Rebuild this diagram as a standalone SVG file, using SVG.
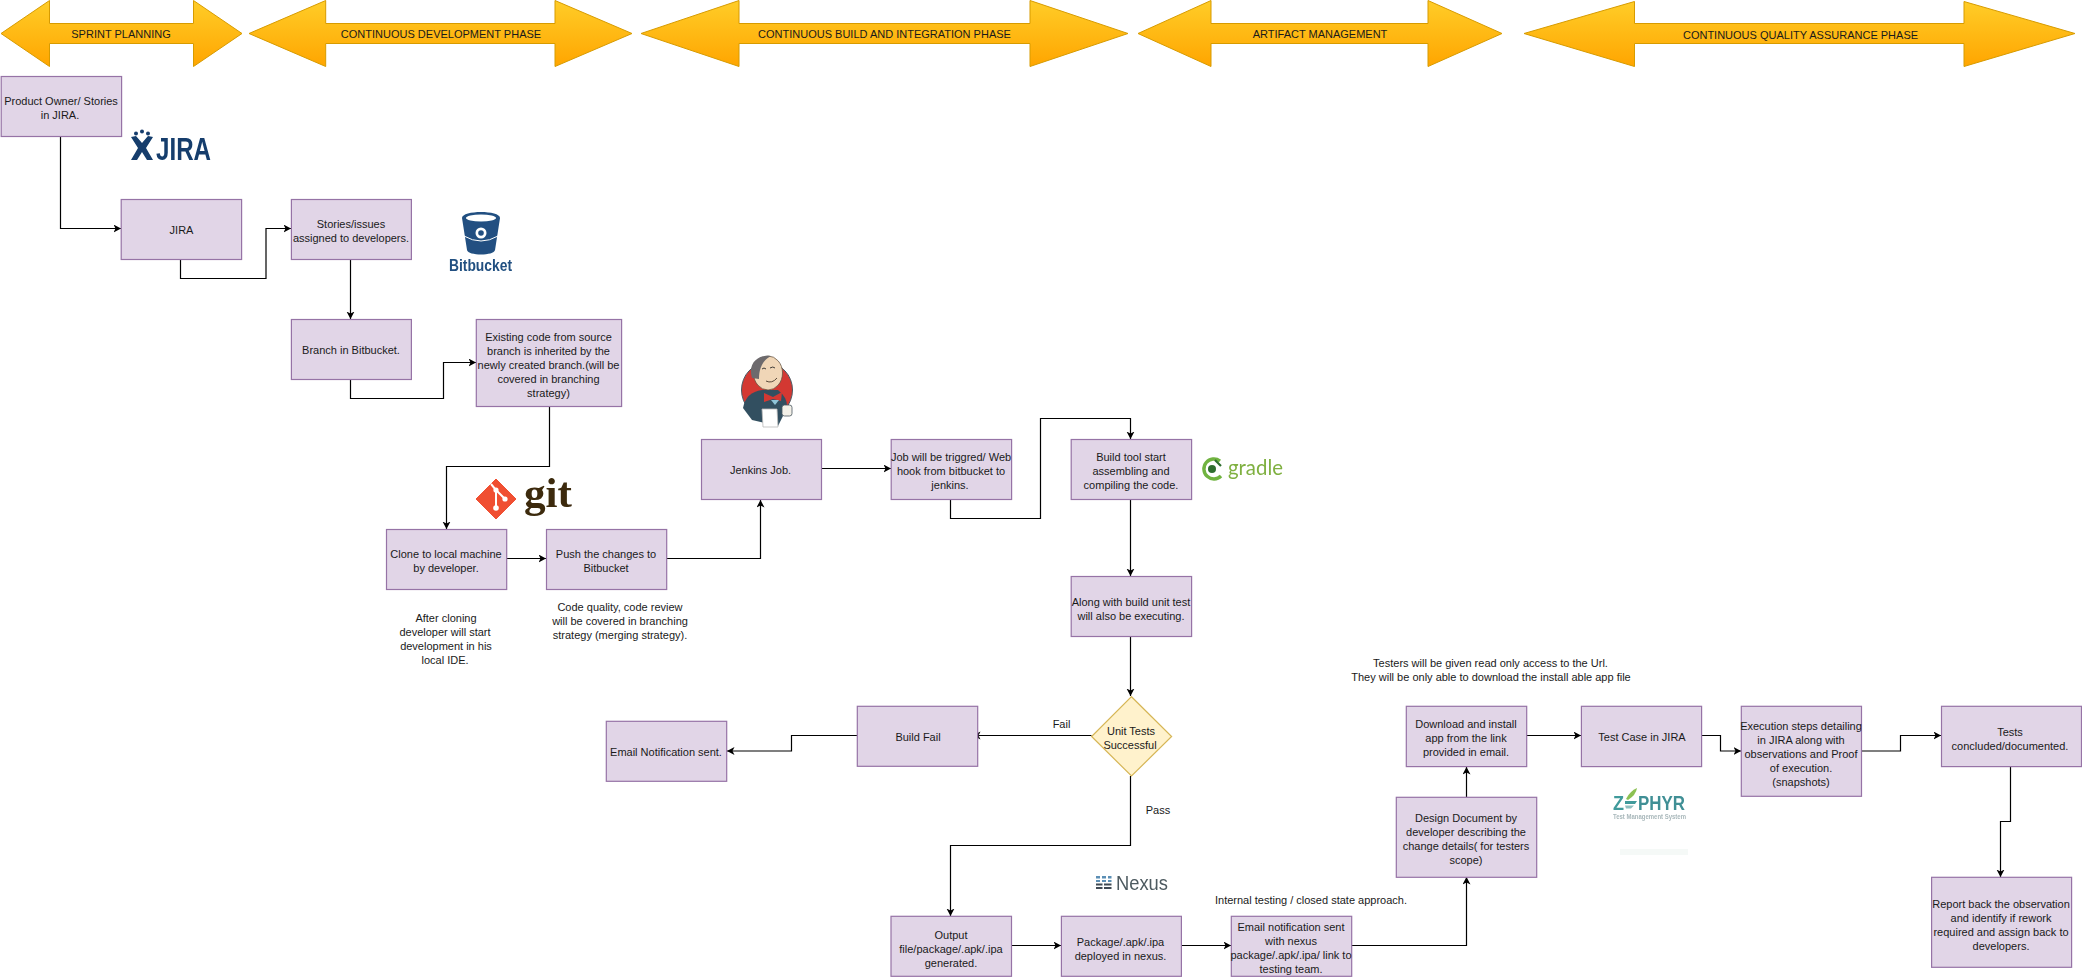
<svg xmlns="http://www.w3.org/2000/svg" width="2082" height="977" viewBox="0 0 2082 977">
<style>
text{font-family:"Liberation Sans",Arial,sans-serif;font-size:11px;fill:#1a1a1a;text-anchor:middle}
.b{fill:#e1d5e7;stroke:#9673a6;stroke-width:1.2}
.d{fill:#fff2cc;stroke:#d6b656;stroke-width:1.2}
.a{fill:url(#og);stroke:#d79b00;stroke-width:1}
.c{fill:none;stroke:#000;stroke-width:1.2;marker-end:url(#ah)}
</style>
<defs>
<linearGradient id="og" x1="0" y1="0" x2="0" y2="1"><stop offset="0" stop-color="#ffcd28"/><stop offset="1" stop-color="#ffa500"/></linearGradient>
<marker id="ah" markerUnits="userSpaceOnUse" markerWidth="9" markerHeight="9" refX="7.5" refY="4" orient="auto"><path d="M0,0 L7.5,4 L0,8 L2,4 Z" fill="#000"/></marker>
<filter id="soft" x="-5%" y="-5%" width="110%" height="110%"><feGaussianBlur stdDeviation="0.45"/></filter>
</defs>
<g id="phases">
<g id="phase-sprint"><path class="a" d="M1,33.5 L49.5,0.5 V23.5 H193.5 V0.5 L242,33.5 L193.5,66.5 V43.5 H49.5 V66.5 Z"/><text x="121" y="38">SPRINT PLANNING</text></g>
<g id="phase-dev"><path class="a" d="M249,33.5 L325.7,0.5 V23.5 H555 V0.5 L632,33.5 L555,66.5 V43.5 H325.7 V66.5 Z"/><text x="441" y="38">CONTINUOUS DEVELOPMENT PHASE</text></g>
<g id="phase-build"><path class="a" d="M641,33.5 L739,0.5 V23.5 H1030 V0.5 L1128,33.5 L1030,66.5 V43.5 H739 V66.5 Z"/><text x="884.5" y="38">CONTINUOUS BUILD AND INTEGRATION PHASE</text></g>
<g id="phase-artifact"><path class="a" d="M1138,33.5 L1211,0.5 V23.5 H1428 V0.5 L1502,33.5 L1428,66.5 V43.5 H1211 V66.5 Z"/><text x="1320" y="38">ARTIFACT MANAGEMENT</text></g>
<g id="phase-qa"><path class="a" d="M1524,33.5 L1634.5,1.5 V23.5 H1964 V1.5 L2075,33.5 L1964,66.5 V43.5 H1634.5 V66.5 Z"/><text x="1800.5" y="39">CONTINUOUS QUALITY ASSURANCE PHASE</text></g>
</g>
<g id="connectors">
<path class="c" d="M60.5,136 V228.5 H121"/>
<path class="c" d="M180.5,259 V278.5 H266 V228.5 H291"/>
<path class="c" d="M350.5,259 V319"/>
<path class="c" d="M350.5,379 V398.5 H443.5 V362.5 H476"/>
<path class="c" d="M549.5,406 V466.5 H446.5 V529"/>
<path class="c" d="M506.5,558.5 H546"/>
<path class="c" d="M666.5,558.5 H760.5 V500"/>
<path class="c" d="M821,468.5 H891"/>
<path class="c" d="M950.5,499 V518.5 H1040.5 V418.5 H1130.5 V439"/>
<path class="c" d="M1130.5,499 V576"/>
<path class="c" d="M1130.5,636 V696"/>
<path class="c" d="M1091.5,735.5 H973"/>
<path class="c" d="M857,735.5 H791.5 V751 H727"/>
<path class="c" d="M1130.5,776 V845.5 H950.5 V916"/>
<path class="c" d="M1011,945.5 H1061"/>
<path class="c" d="M1181,945.5 H1231"/>
<path class="c" d="M1351,945.5 H1466.5 V877"/>
<path class="c" d="M1466.5,797 V767"/>
<path class="c" d="M1526.5,735.5 H1581"/>
<path class="c" d="M1701,735.5 H1720.5 V751 H1741"/>
<path class="c" d="M1861,751 H1900.5 V735.5 H1941"/>
<path class="c" d="M2010.5,766 V821.5 H2000.5 V877"/>
</g>
<g id="n-po"><rect class="b" x="1.2" y="76.5" width="120.4" height="60"/><text x="61" y="105">Product Owner/ Stories</text><text x="60" y="119">in JIRA.</text></g>
<g id="n-jira"><rect class="b" x="121.2" y="199.5" width="120.4" height="60"/><text x="181.5" y="234">JIRA</text></g>
<g id="n-stories"><rect class="b" x="291.4" y="199.5" width="120" height="60"/><text x="351" y="228">Stories/issues</text><text x="351" y="242">assigned to developers.</text></g>
<g id="n-branch"><rect class="b" x="291.4" y="319.5" width="120" height="60"/><text x="351" y="354">Branch in Bitbucket.</text></g>
<g id="n-existing"><rect class="b" x="476.3" y="319.5" width="145.3" height="87"/><text x="548.5" y="341">Existing code from source</text><text x="548.5" y="355">branch is inherited by the</text><text x="548.5" y="369">newly created branch.(will be</text><text x="548.5" y="383">covered in branching</text><text x="548.5" y="397">strategy)</text></g>
<g id="n-clone"><rect class="b" x="386.5" y="529.5" width="120.2" height="60"/><text x="446" y="558">Clone to local machine</text><text x="446" y="572">by developer.</text></g>
<g id="n-push"><rect class="b" x="546.5" y="529.5" width="120.2" height="60"/><text x="606" y="558">Push the changes to</text><text x="606" y="572">Bitbucket</text></g>
<g id="n-jenkins"><rect class="b" x="701.5" y="439.5" width="120" height="60"/><text x="760.5" y="474">Jenkins Job.</text></g>
<g id="n-job"><rect class="b" x="891.2" y="439.5" width="120.4" height="60"/><text x="951" y="461">Job will be triggred/ Web</text><text x="951" y="475">hook from bitbucket to</text><text x="950" y="489">jenkins.</text></g>
<g id="n-build"><rect class="b" x="1071.2" y="439.5" width="120.4" height="60"/><text x="1131" y="461">Build tool start</text><text x="1131" y="475">assembling and</text><text x="1131" y="489">compiling the code.</text></g>
<g id="n-along"><rect class="b" x="1071.2" y="576.5" width="120.4" height="60"/><text x="1131" y="605.5">Along with build unit test</text><text x="1131" y="619.5">will also be executing.</text></g>
<g id="n-decision"><path class="d" d="M1131.5,696.7 L1171.6,736.5 L1131.5,776 L1091.6,736.5 Z"/><text x="1131" y="735">Unit Tests</text><text x="1130" y="749">Successful</text></g>
<g id="n-fail"><rect class="b" x="857.3" y="706.3" width="120.4" height="60"/><text x="918" y="741">Build Fail</text></g>
<g id="n-email"><rect class="b" x="606.3" y="721.3" width="120.4" height="60"/><text x="666" y="756">Email Notification sent.</text></g>
<g id="n-output"><rect class="b" x="891" y="916.3" width="120.5" height="60"/><text x="951" y="938.5">Output</text><text x="951" y="952.5">file/package/.apk/.ipa</text><text x="951" y="966.5">generated.</text></g>
<g id="n-package"><rect class="b" x="1061.4" y="916.3" width="120" height="60"/><text x="1120.5" y="945.5">Package/.apk/.ipa</text><text x="1120.5" y="959.5">deployed in nexus.</text></g>
<g id="n-emailnexus"><rect class="b" x="1231.3" y="916.3" width="120.4" height="60"/><text x="1291" y="931">Email notification sent</text><text x="1291" y="945">with nexus</text><text x="1291" y="959">package/.apk/.ipa/ link to</text><text x="1291" y="973">testing team.</text></g>
<g id="n-design"><rect class="b" x="1396.3" y="797.3" width="140.4" height="80"/><text x="1466" y="822">Design Document by</text><text x="1466" y="836">developer describing the</text><text x="1466" y="850">change details( for testers</text><text x="1466" y="864">scope)</text></g>
<g id="n-download"><rect class="b" x="1406.3" y="706.3" width="120.4" height="60.3"/><text x="1466" y="728">Download and install</text><text x="1466" y="742">app from the link</text><text x="1466" y="756">provided in email.</text></g>
<g id="n-testcase"><rect class="b" x="1581.4" y="706.3" width="120.2" height="60.3"/><text x="1642" y="741">Test Case in JIRA</text></g>
<g id="n-exec"><rect class="b" x="1741.3" y="706.3" width="120.2" height="90"/><text x="1801" y="729.5">Execution steps detailing</text><text x="1801" y="743.5">in JIRA along with</text><text x="1801" y="757.5">observations and Proof</text><text x="1801" y="771.5">of execution.</text><text x="1801" y="785.5">(snapshots)</text></g>
<g id="n-tests"><rect class="b" x="1941.5" y="706.3" width="140" height="60.3"/><text x="2010" y="735.5">Tests</text><text x="2010" y="749.5">concluded/documented.</text></g>
<g id="n-report"><rect class="b" x="1931.6" y="877.3" width="140" height="90"/><text x="2001" y="907.5">Report back the observation</text><text x="2001" y="921.5">and identify if rework</text><text x="2001" y="935.5">required and assign back to</text><text x="2001" y="949.5">developers.</text></g>
<g id="labels">
<text x="1061.5" y="727.5">Fail</text>
<text x="1158" y="814">Pass</text>
<text x="1311" y="904">Internal testing / closed state approach.</text>
<text x="1490.5" y="667">Testers will be given read only access to the Url.</text>
<text x="1491" y="681">They will be only able to download the install able app file</text>
<text x="446" y="621.5">After cloning</text><text x="445" y="635.5">developer will start</text><text x="446" y="649.5">development in his</text><text x="445" y="663.5">local IDE.</text>
<text x="620" y="610.5">Code quality, code review</text><text x="620" y="624.5">will be covered in branching</text><text x="620" y="638.5">strategy (merging strategy).</text>
</g>
<g id="logo-jira" filter="url(#soft)">
<g fill="#123c6c"><circle cx="142" cy="131.5" r="2"/><circle cx="136" cy="133.5" r="2"/><circle cx="148" cy="133.5" r="2"/>
<path d="M131,137 L136,136 L142,143 L148,136 L153,137 L146,148 L153,160 H147 L142,152 L137,160 H131 L138,148 Z"/></g>
<text x="156" y="160" textLength="55" lengthAdjust="spacingAndGlyphs" style="font-size:31px;font-weight:bold;fill:#123c6c;text-anchor:start">JIRA</text>
</g>
<g id="logo-bitbucket" filter="url(#soft)">
<path d="M462,218 C462,210 500,210 500,218 L495,250 C494,256 468,256 467,250 Z" fill="#205081"/>
<ellipse cx="481" cy="218" rx="15" ry="3.5" fill="#fff"/>
<circle cx="481" cy="233" r="5.5" fill="#fff"/><circle cx="481" cy="233" r="2.8" fill="#205081"/>
<path d="M464,236 Q481,246 498,236" fill="none" stroke="#fff" stroke-width="1"/>
<text x="449" y="271" textLength="63" lengthAdjust="spacingAndGlyphs" style="font-size:17px;font-weight:bold;fill:#205081;text-anchor:start">Bitbucket</text>
</g>
<g id="logo-git" filter="url(#soft)">
<path d="M496,479 L516,499 L496,519 L476,499 Z" fill="#f05033" stroke="#f05033" stroke-width="1" stroke-linejoin="round"/>
<path d="M491,484 L496,490 V508 M496,490 L505,499" fill="none" stroke="#fff" stroke-width="2"/>
<circle cx="496" cy="490" r="2.6" fill="#fff"/><circle cx="496" cy="508" r="2.8" fill="#fff"/><circle cx="505" cy="499" r="2.6" fill="#fff"/>
<text x="524" y="507" textLength="48" lengthAdjust="spacingAndGlyphs" style="font-family:'Liberation Serif',serif;font-size:42px;font-weight:bold;fill:#3c2c0f;text-anchor:start">git</text>
</g>
<g id="logo-jenkins" filter="url(#soft)">
<ellipse cx="767" cy="390" rx="25.5" ry="27" fill="#d33833" stroke="#4a5a63" stroke-width="1"/>
<path d="M743,408 Q746,392 762,390 L778,390 Q788,398 787,408 L778,426 L752,420 Z" fill="#335061"/>
<ellipse cx="768" cy="373" rx="14.5" ry="17" fill="#f0d6b7" stroke="#5a4a3a" stroke-width="0.7"/>
<path d="M752,378 C747,362 760,354 771,356 C763,360 759,368 759,379 Z" fill="#6d6b6d"/>
<path d="M766,381 Q772,384 777,378" fill="none" stroke="#5a4a3a" stroke-width="1"/>
<path d="M770,368 q3,-2 5,0 M762,369 q2,-2 4,0" fill="none" stroke="#2a2a2a" stroke-width="0.9"/>
<path d="M764,393 L773,397 L782,392 L781,401 L773,399 L764,402 Z" fill="#d33833"/>
<path d="M771,400 L779,400 L775,405 Z" fill="#8fc4d8"/>
<path d="M762,409 H777 L778,427 H763 Z" fill="#fff" stroke="#b9b9b9" stroke-width="0.8"/>
<rect x="782" y="405" width="10" height="11" rx="2.5" fill="#f3f0e8" stroke="#49575f" stroke-width="0.8"/>
</g>
<g id="logo-gradle" filter="url(#soft)">
<path d="M1220,461 A10,10 0 1 0 1221,476" fill="none" stroke="#6fb33f" stroke-width="3.4"/>
<circle cx="1212" cy="469" r="4" fill="#2f6e2f"/>
<path d="M1221,466 L1215,460" fill="none" stroke="#2f6e2f" stroke-width="2.2"/>
<text x="1228" y="475" textLength="55" lengthAdjust="spacingAndGlyphs" style="font-family:Lato,sans-serif;font-size:21px;fill:#7fb040;text-anchor:start">gradle</text>
</g>
<g id="logo-nexus" filter="url(#soft)">
<path d="M1096,876 h4 v2.5 h-4 z M1102,876 h4 v2.5 h-4 z M1108,876 h3.5 v2.5 h-3.5 z M1096,880 h4 v2 h-4 z M1102,880 h4 v2 h-4 z M1108,880 h3.5 v2 h-3.5 z" fill="#5b8fb5"/>
<path d="M1096,883.5 h6.5 v2 h-6.5 z M1104,883.5 h7.5 v2 h-7.5 z M1096,887 h6.5 v2 h-6.5 z M1104,887 h7.5 v2 h-7.5 z" fill="#3f4a52"/>
<text x="1116" y="890" textLength="52" lengthAdjust="spacingAndGlyphs" style="font-size:21px;fill:#4d5a60;text-anchor:start">Nexus</text>
</g>
<g id="logo-zephyr" filter="url(#soft)">
<text x="1613" y="810" textLength="11" lengthAdjust="spacingAndGlyphs" style="font-size:20px;font-weight:bold;fill:#3f9a9b;text-anchor:start">Z</text>
<path d="M1626,799 Q1630,791 1637,788 Q1636,795 1628,800 Z" fill="#8cc152"/>
<path d="M1625,801 H1637 L1635,804 H1625 Z" fill="#3f9a9b"/><path d="M1625,805.5 H1634 L1631,808.5 H1626 Z" fill="#8fbfc0"/>
<text x="1638" y="810" textLength="47" lengthAdjust="spacingAndGlyphs" style="font-size:20px;font-weight:bold;fill:#3f8f95;text-anchor:start">PHYR</text>
<text x="1613" y="819" textLength="73" lengthAdjust="spacingAndGlyphs" style="font-size:7px;font-weight:bold;fill:#a9b8bb;text-anchor:start">Test Management System</text>
<rect x="1620" y="849" width="68" height="6" fill="#f5f9f7"/>
</g>
</svg>
